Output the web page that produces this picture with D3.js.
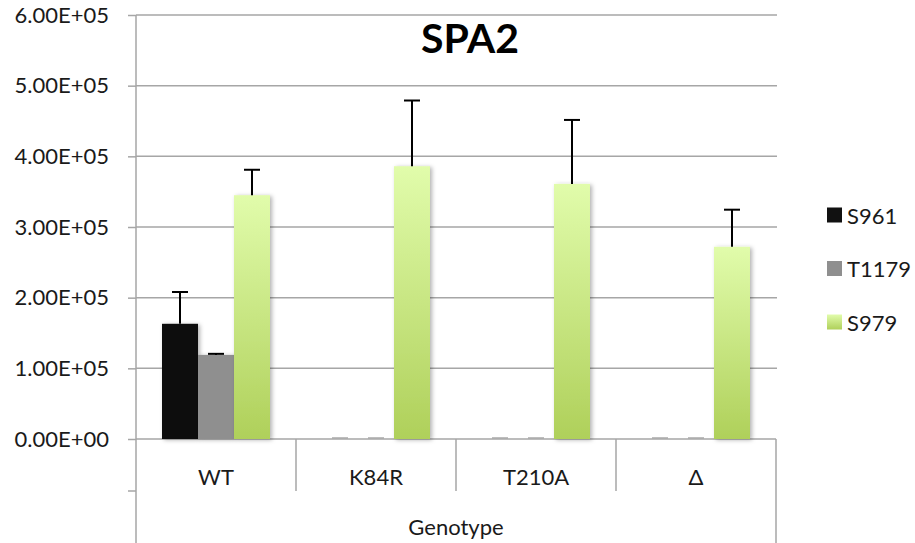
<!DOCTYPE html>
<html>
<head>
<meta charset="utf-8">
<script src="https://cdn.jsdelivr.net/npm/d3@7"></script>
<style>
  html, body { margin: 0; padding: 0; background: #fff; }
  svg { display: block; font-family: Lato, "Open Sans", sans-serif; }
</style>
</head>
<body>
<svg id="chart" width="915" height="543"></svg>
<script>
const categories = ["WT", "K84R", "T210A", "Δ"];
const seriesNames = ["S961", "T1179", "S979"];
const S961 = [163000, 0, 0, 0];
const S961_err = [45000, 0, 0, 0];
const T1179 = [119000, 0, 0, 0];
const T1179_err = [1500, 0, 0, 0];
const S979 = [345000, 386000, 361000, 272000];
const S979_err = [36000, 93000, 90500, 52500];
const yTicks = [0, 100000, 200000, 300000, 400000, 500000, 600000];
const title = "SPA2";
const axisTitle = "Genotype";

const seriesValues = [S961, T1179, S979];
const seriesErrors = [S961_err, T1179_err, S979_err];

const svg = d3.select("#chart");
const defs = svg.append("defs");

const grad = defs.append("linearGradient").attr("id", "greenGrad")
  .attr("x1", 0).attr("y1", 0).attr("x2", 0).attr("y2", 1);
grad.append("stop").attr("offset", "0%").attr("stop-color", "#e1fcab");
grad.append("stop").attr("offset", "100%").attr("stop-color", "#afd05a");

const shadow = defs.append("filter").attr("id", "shadow")
  .attr("x", "-20%").attr("y", "-5%").attr("width", "150%").attr("height", "115%");
shadow.append("feDropShadow").attr("dx", 2).attr("dy", 1).attr("stdDeviation", 2)
  .attr("flood-color", "#000").attr("flood-opacity", 0.3);

const fills = ["#111111", "#8f8f8f", "url(#greenGrad)"];

const plotLeft = 136, plotRight = 776, plotTop = 15, plotBottom = 439;

const y = d3.scaleLinear().domain([0, 600000]).range([plotBottom, plotTop]);
const x0 = d3.scaleBand().domain(categories).range([plotLeft, plotRight]).paddingInner(0).paddingOuter(0);
const x1 = d3.scaleBand().domain(seriesNames).range([26, x0.bandwidth() - 26]).padding(0);

function excelFmt(d) {
  if (d === 0) return "0.00E+00";
  const e = Math.floor(Math.log10(Math.abs(d)));
  const m = d / Math.pow(10, e);
  return m.toFixed(2) + "E" + (e >= 0 ? "+" : "-") + String(Math.abs(e)).padStart(2, "0");
}

// gridlines
svg.append("g").selectAll("line").data(yTicks.filter(t => t > 0)).join("line")
  .attr("x1", plotLeft).attr("x2", plotRight + 1)
  .attr("y1", d => y(d)).attr("y2", d => y(d))
  .attr("stroke", "#a6a6a6").attr("stroke-width", 1.5);

// y axis
const yAxis = svg.append("g").attr("transform", `translate(${plotLeft},0)`)
  .call(d3.axisLeft(y).tickValues(yTicks).tickFormat(excelFmt).tickSize(8).tickPadding(19).tickSizeOuter(0));
yAxis.select(".domain").remove();
yAxis.selectAll(".tick line").attr("stroke", "#a6a6a6").attr("stroke-width", 1.5);
yAxis.selectAll(".tick text").attr("font-size", 22).attr("fill", "#1a1a1a")
  .attr("font-family", "Lato, sans-serif");

// category axis frame
const frame = svg.append("g").attr("stroke", "#a6a6a6").attr("stroke-width", 1.5);
frame.append("line").attr("x1", plotLeft).attr("x2", plotLeft).attr("y1", plotTop).attr("y2", 543);
frame.append("line").attr("x1", plotRight).attr("x2", plotRight).attr("y1", plotBottom).attr("y2", 543);
frame.append("line").attr("x1", plotLeft).attr("x2", plotRight).attr("y1", y(0)).attr("y2", y(0));
frame.selectAll("line.div").data(categories.slice(1)).join("line").attr("class", "div")
  .attr("x1", d => x0(d)).attr("x2", d => x0(d))
  .attr("y1", plotBottom).attr("y2", 491);
frame.append("line").attr("x1", plotLeft - 8).attr("x2", plotLeft).attr("y1", 491).attr("y2", 491);

// bars
const groups = svg.append("g").selectAll("g").data(categories).join("g")
  .attr("transform", d => `translate(${x0(d)},0)`);

const barData = (cat, ci) => seriesNames.map((s, si) => ({
  series: s, si, value: seriesValues[si][ci], err: seriesErrors[si][ci]
}));

groups.each(function(cat, ci) {
  const g = d3.select(this);
  const data = barData(cat, ci);
  // zero-value bars appear as a thin shadow dash
  g.selectAll("line.zero").data(data.filter(d => d.value === 0)).join("line")
    .attr("class", "zero")
    .attr("x1", d => x1(d.series) + x1.bandwidth() / 2 - 8)
    .attr("x2", d => x1(d.series) + x1.bandwidth() / 2 + 8)
    .attr("y1", y(0) - 1).attr("y2", y(0) - 1)
    .attr("stroke", "#a8a8a8").attr("stroke-width", 1.5);
  g.selectAll("rect").data(data.filter(d => d.value > 0)).join("rect")
    .attr("x", d => x1(d.series))
    .attr("width", x1.bandwidth())
    .attr("y", d => y(d.value))
    .attr("height", d => y(0) - y(d.value))
    .attr("fill", d => fills[d.si])
    .attr("filter", "url(#shadow)");
  const eb = g.selectAll("g.err").data(data.filter(d => d.value > 0)).join("g").attr("class", "err")
    .attr("stroke", "#000").attr("stroke-width", 2);
  eb.append("line")
    .attr("x1", d => x1(d.series) + x1.bandwidth() / 2)
    .attr("x2", d => x1(d.series) + x1.bandwidth() / 2)
    .attr("y1", d => y(d.value)).attr("y2", d => y(d.value + d.err));
  eb.append("line")
    .attr("x1", d => x1(d.series) + x1.bandwidth() / 2 - 8)
    .attr("x2", d => x1(d.series) + x1.bandwidth() / 2 + 8)
    .attr("y1", d => y(d.value + d.err)).attr("y2", d => y(d.value + d.err));
});

// category labels
svg.append("g").selectAll("text").data(categories).join("text")
  .attr("x", d => x0(d) + x0.bandwidth() / 2)
  .attr("y", 477).attr("dy", "0.35em")
  .attr("text-anchor", "middle").attr("font-size", 22).attr("fill", "#1a1a1a")
  .text(d => d);

svg.append("text").attr("x", (plotLeft + plotRight) / 2).attr("y", 527).attr("dy", "0.35em")
  .attr("text-anchor", "middle").attr("font-size", 22).attr("fill", "#1a1a1a")
  .text(axisTitle);

// title
svg.append("text").attr("x", 470).attr("y", 53)
  .attr("text-anchor", "middle").attr("font-size", 41).attr("font-weight", "bold")
  .attr("fill", "#000").text(title);

// legend
const legend = svg.append("g").selectAll("g").data(seriesNames).join("g")
  .attr("transform", (d, i) => `translate(827,${215 + i * 53.5})`);
legend.append("rect").attr("x", 0).attr("y", -7.5).attr("width", 15).attr("height", 15)
  .attr("fill", (d, i) => fills[i]);
legend.append("text").attr("x", 20).attr("y", 1).attr("dy", "0.35em")
  .attr("font-size", 22).attr("fill", "#1a1a1a").text(d => d);
</script>
</body>
</html>
